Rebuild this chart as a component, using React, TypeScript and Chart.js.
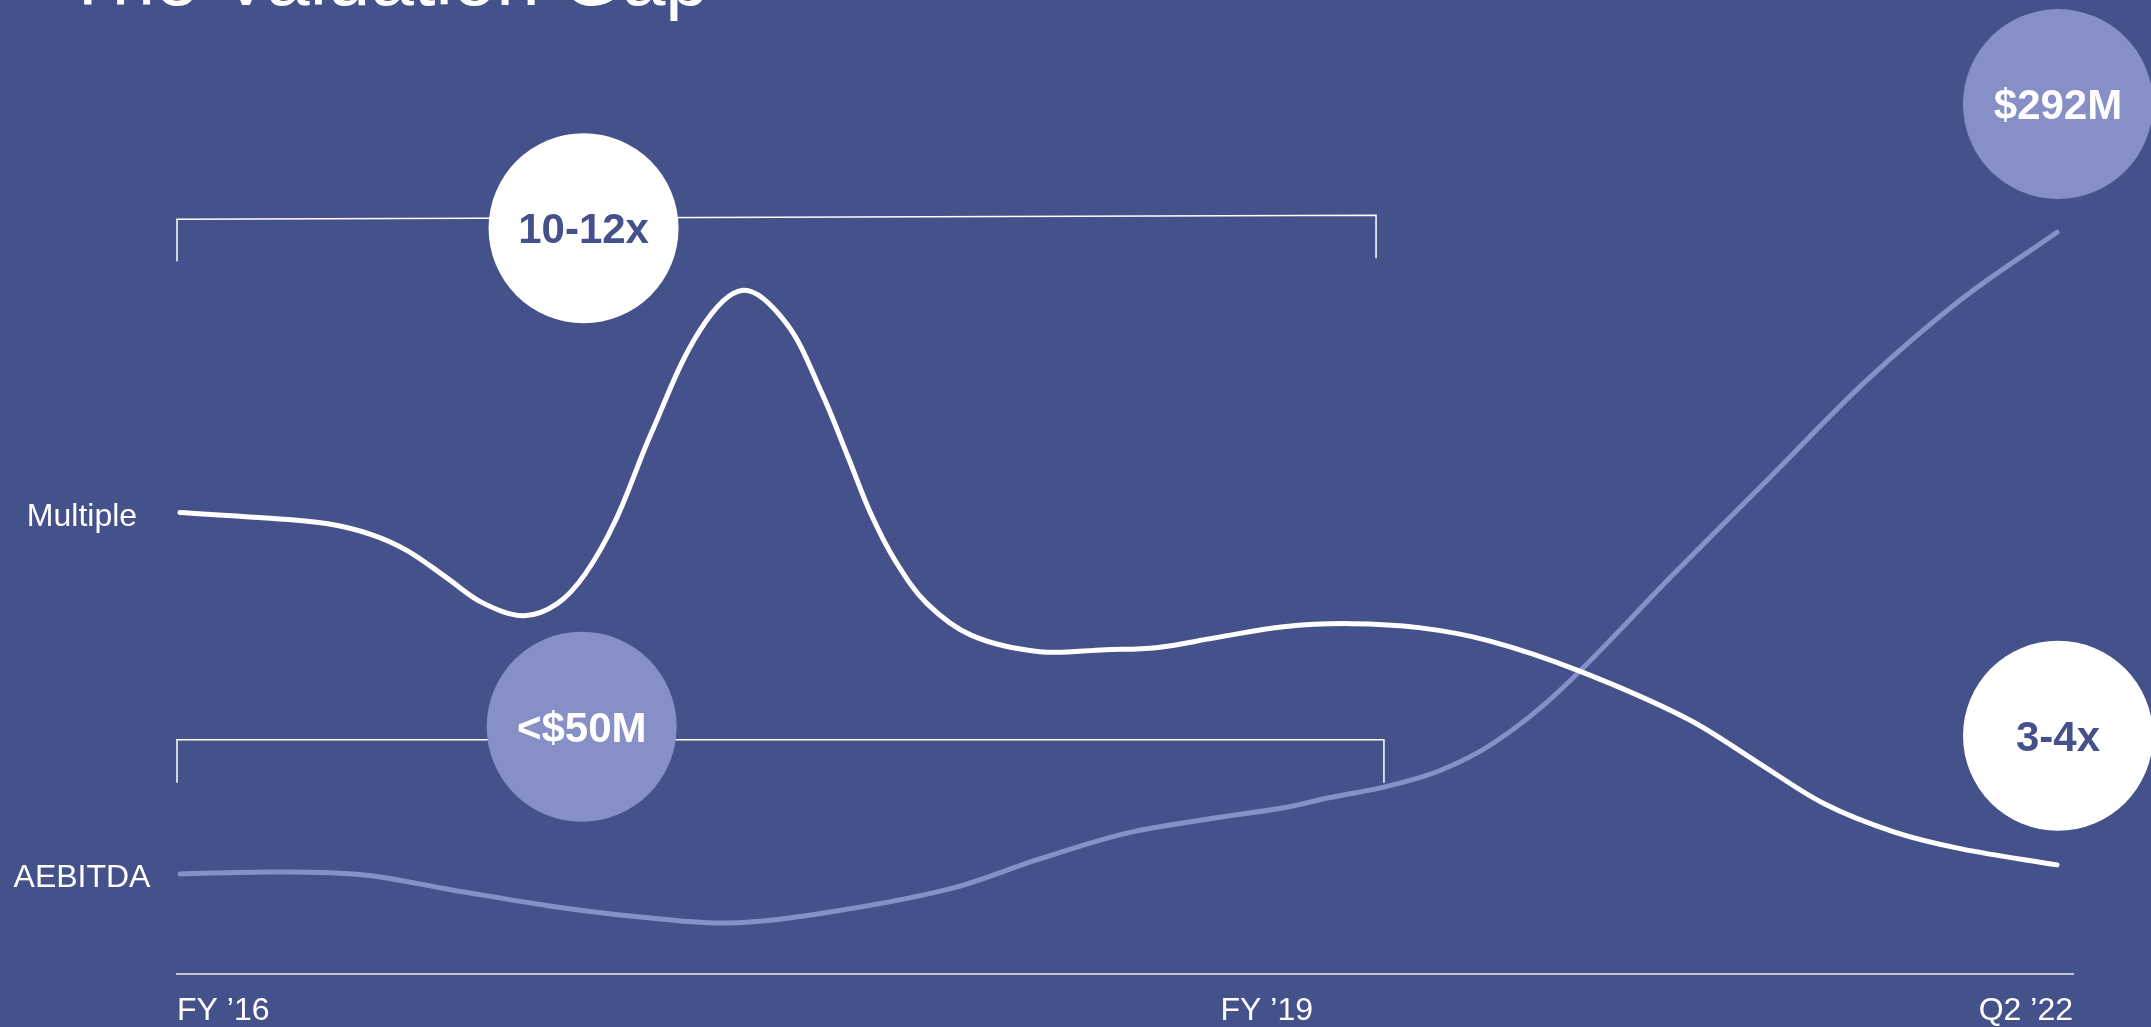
import React, { useEffect, useRef } from 'react';
import { Chart, registerables } from 'chart.js';

Chart.register(...registerables);

// ---------- data ----------
const periodLabels = ['FY \u201916', 'FY \u201919', 'Q2 \u201922'];
const periodPositions = [-0.16, 57.9, 100.85];

const seriesNames = ['Multiple', 'AEBITDA'];

const multipleX = [0, 4.2, 7.8, 10.2, 12.1, 14.2, 16.1, 18.3, 20.1, 21.6, 23.2, 25.1, 27.7, 30.0, 32.3, 34.2, 35.6, 36.8, 38.1, 39.8, 42.2, 45.8, 49.3, 52.0, 55.2, 58.8, 62.4, 66.0, 69.7, 74.5, 80.3, 84.0, 87.6, 91.3, 94.9, 100];
const multipleY = [46.1, 45.6, 45.0, 43.9, 42.3, 39.6, 37.1, 35.8, 37.0, 40.0, 45.3, 54.0, 64.3, 68.3, 65.0, 58.0, 51.6, 46.0, 41.3, 37.0, 33.8, 32.2, 32.4, 32.6, 33.6, 34.7, 35.0, 34.6, 33.3, 30.3, 25.5, 21.2, 17.0, 14.2, 12.5, 10.9];

const aebitdaX = [0, 5.0, 9.8, 14.5, 19.7, 24.0, 29.1, 34.3, 41.0, 45.8, 50.5, 55.2, 58.8, 61.2, 64.2, 67.1, 70.0, 73.5, 79.6, 84.7, 89.8, 94.9, 100];
const aebitdaY = [10.0, 10.2, 9.9, 8.4, 6.8, 5.8, 5.1, 6.1, 8.5, 11.5, 14.1, 15.6, 16.6, 17.6, 18.7, 20.3, 23.1, 28.3, 40.0, 49.6, 59.2, 67.4, 74.1];

const bubbleTexts = ['10-12x', '<$50M', '$292M', '3-4x'];
const bubbleX = [21.5, 21.4, 100.05, 100.05];
const bubbleY = [74.5, 24.7, 86.9, 23.8];

// brackets
const bracketX0 = [-0.16, -0.16];
const bracketX1 = [63.72, 64.14];
const bracketTopL = [75.4, 23.4];
const bracketTopR = [75.8, 23.4];
const bracketEndL = [71.2, 19.1];
const bracketEndR = [71.5, 19.1];

const titleText = 'The Valuation Gap';

// ---------- styles ----------
const BG = '#45518a';
const LIGHT = '#8790c6';
const FONT = '"Liberation Sans", Arial, sans-serif';

const decorPlugin = {
  id: 'decor',
  beforeDatasetsDraw(chart: any) {
    const ctx = chart.ctx;
    const xs = chart.scales.x;
    const ys = chart.scales.y;
    ctx.save();
    ctx.strokeStyle = '#ffffff';
    ctx.lineWidth = 1.5;
    for (let i = 0; i < bracketX0.length; i++) {
      const xl = xs.getPixelForValue(bracketX0[i]);
      const xr = xs.getPixelForValue(bracketX1[i]);
      ctx.beginPath();
      ctx.moveTo(xl, ys.getPixelForValue(bracketEndL[i]));
      ctx.lineTo(xl, ys.getPixelForValue(bracketTopL[i]));
      ctx.lineTo(xr, ys.getPixelForValue(bracketTopR[i]));
      ctx.lineTo(xr, ys.getPixelForValue(bracketEndR[i]));
      ctx.stroke();
    }
    ctx.restore();
  },
  afterDatasetsDraw(chart: any) {
    const ctx = chart.ctx;
    const xs = chart.scales.x;
    const ys = chart.scales.y;
    ctx.save();
    for (let i = 0; i < bubbleTexts.length; i++) {
      const cx = xs.getPixelForValue(bubbleX[i]);
      const cy = ys.getPixelForValue(bubbleY[i]);
      const isWhite = i === 0 || i === 3;
      ctx.beginPath();
      ctx.arc(cx, cy, 95, 0, Math.PI * 2);
      ctx.fillStyle = isWhite ? '#ffffff' : LIGHT;
      ctx.fill();
      ctx.fillStyle = isWhite ? BG : '#ffffff';
      ctx.font = `bold 42px ${FONT}`;
      ctx.textAlign = 'center';
      ctx.textBaseline = 'alphabetic';
      ctx.fillText(bubbleTexts[i], cx, cy + 15);
    }
    ctx.fillStyle = '#ffffff';
    ctx.font = `32px ${FONT}`;
    ctx.textAlign = 'center';
    ctx.textBaseline = 'alphabetic';
    const firstY = [multipleY[0], aebitdaY[0]];
    for (let i = 0; i < seriesNames.length; i++) {
      const y = ys.getPixelForValue(firstY[i]);
      ctx.fillText(seriesNames[i], 82, y + 13);
    }
    ctx.font = `78px ${FONT}`;
    ctx.textAlign = 'left';
    ctx.fillText(titleText, 64, 5);
    ctx.restore();
  },
};

export default function App() {
  const ref = useRef<HTMLCanvasElement>(null);
  useEffect(() => {
    document.body.style.margin = '0';
    document.body.style.background = BG;
    document.body.style.overflow = 'hidden';
    const chart = new Chart(ref.current as HTMLCanvasElement, {
      type: 'line',
      data: {
        datasets: [
          {
            label: seriesNames[0],
            data: multipleX.map((x, i) => ({ x, y: multipleY[i] })),
            borderColor: '#ffffff',
            borderWidth: 5,
            pointRadius: 0,
            tension: 0.35,
            borderCapStyle: 'round',
            borderJoinStyle: 'round',
            fill: false,
          },
          {
            label: seriesNames[1],
            data: aebitdaX.map((x, i) => ({ x, y: aebitdaY[i] })),
            borderColor: LIGHT,
            borderWidth: 5,
            pointRadius: 0,
            tension: 0.35,
            borderCapStyle: 'round',
            borderJoinStyle: 'round',
            fill: false,
          },
        ],
      },
      options: {
        responsive: false,
        animation: false,
        layout: { padding: { left: 177, right: 78, top: 3, bottom: -21 } },
        plugins: { legend: { display: false }, tooltip: { enabled: false } },
        scales: {
          x: {
            type: 'linear',
            min: -0.16,
            max: 100.85,
            afterBuildTicks: (axis: any) => {
              axis.ticks = periodPositions.map((v) => ({ value: v }));
            },
            grid: { display: true, drawOnChartArea: false, drawTicks: false, color: 'rgba(0,0,0,0)' },
            border: { display: true, color: '#c4c6d6', width: 2 },
            ticks: {
              autoSkip: false,
              maxRotation: 0,
              align: 'inner',
              padding: 21,
              color: '#ffffff',
              font: { family: FONT, size: 32, lineHeight: 1 },
              callback: (_v: any, i: number) => periodLabels[i],
            },
          },
          y: { type: 'linear', display: false, min: 0, max: 97 },
        },
      } as any,
      plugins: [decorPlugin],
    });
    return () => chart.destroy();
  }, []);
  return (
    <div style={{ width: 2151, height: 1027, background: BG }}>
      <canvas ref={ref} width={2151} height={1027} style={{ display: 'block', width: 2151, height: 1027 }} />
    </div>
  );
}
